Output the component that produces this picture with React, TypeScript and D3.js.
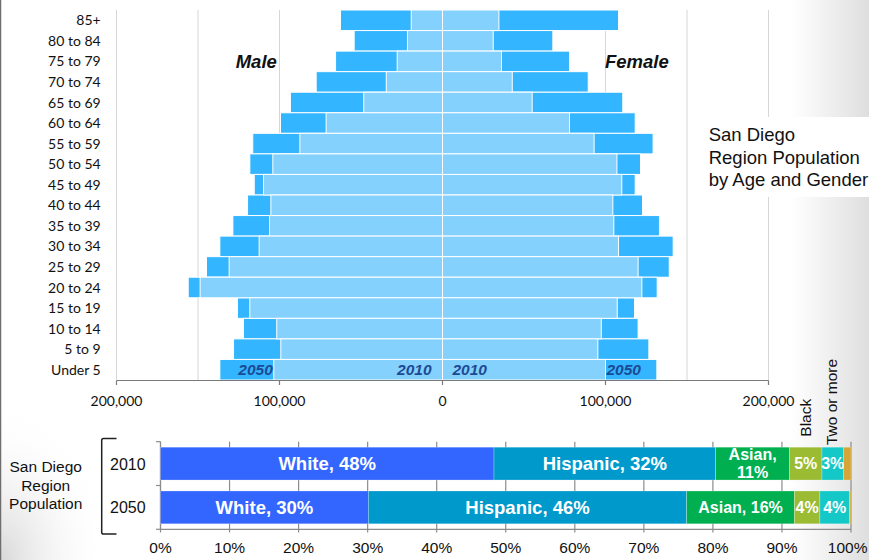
import React, { useEffect } from "react";
import * as d3 from "d3";

const ageGroups = ["85+", "80 to 84", "75 to 79", "70 to 74", "65 to 69", "60 to 64", "55 to 59", "50 to 54", "45 to 49", "40 to 44", "35 to 39", "30 to 34", "25 to 29", "20 to 24", "15 to 19", "10 to 14", "5 to 9", "Under 5"];
const male2010 = [19200, 21500, 27800, 34500, 48300, 71400, 87500, 104100, 109800, 105300, 106100, 112500, 130900, 148700, 118200, 101700, 99200, 103500];
const male2050 = [62600, 54200, 65600, 77500, 93300, 99400, 116400, 118200, 115500, 119600, 128600, 136600, 144800, 156000, 125800, 122100, 128200, 136600];
const female2010 = [34600, 31100, 36200, 42800, 55000, 77900, 93000, 107000, 110000, 104500, 105100, 108000, 120000, 122300, 107200, 97400, 95300, 100000];
const female2050 = [108000, 67700, 77900, 89400, 110600, 118200, 129200, 121500, 118200, 122700, 133100, 141500, 139100, 131700, 117800, 120000, 126600, 131500];
const popTicks = [-200000, -100000, 0, 100000, 200000];
const popGrid = [-200000, -150000, -100000, -50000, 50000, 100000, 150000, 200000];

const years = ["2010", "2050"];
const raceNames = ["White", "Hispanic", "Asian", "Black", "Two or more", "Other"];
const race2010 = [48.3, 32.1, 10.7, 4.7, 3.1, 1.1];
const race2050 = [30.1, 46.1, 15.6, 3.7, 4.3, 0.2];
const raceLabels2010 = ["White, 48%", "Hispanic, 32%", "Asian,|11%", "5%", "3%", ""];
const raceLabels2050 = ["White, 30%", "Hispanic, 46%", "Asian, 16%", "4%", "4%", ""];
const raceColors = ["#3366FF", "#0099CC", "#00B050", "#9BBB33", "#14C8C8", "#D4A537"];
const pctTicks = [0, 10, 20, 30, 40, 50, 60, 70, 80, 90, 100];

const ARIAL = "'Liberation Sans', Arial, sans-serif";
const CAL = "Lato, 'Open Sans', sans-serif";
const LIGHT = "#85D1FE";
const DARK = "#33B5FF";
const NAVY = "#1C4A94";

export default function App() {
  useEffect(() => {
    document.body.style.margin = "0";
  }, []);

  const x = d3.scaleLinear().domain([-200000, 200000]).range([116.5, 768.5]);
  const y = d3.scaleBand<string>().domain(ageGroups).range([10, 380]).padding(0);
  const bw = y.bandwidth();

  const px = d3.scaleLinear().domain([0, 100]).range([160.5, 851]);
  const py = d3.scaleBand<string>().domain(years).range([441.7, 529.3]).paddingInner(0.25).paddingOuter(0.125);
  const pbw = py.bandwidth();

  const stacks = [race2010, race2050].map((vals) => {
    let acc = 0;
    return vals.map((v) => {
      const s = acc;
      acc += v;
      return [s, acc];
    });
  });
  const labelSets = [raceLabels2010, raceLabels2050];

  const last = ageGroups.length - 1;
  const lastY = (y(ageGroups[last]) as number) + bw / 2 + 5.5;

  const blackSeg2010 = stacks[0][3];
  const twoSeg2010 = stacks[0][4];

  return (
    <svg width={869} height={560} style={{ position: "fixed", left: 0, top: 0, display: "block" }}>
      <defs>
        <linearGradient id="rg" x1="0" x2="1" y1="0" y2="0">
          <stop offset="0" stopColor="#e2e2e2" stopOpacity={0} />
          <stop offset="1" stopColor="#dedede" stopOpacity={1} />
        </linearGradient>
        <radialGradient id="blg" cx="0" cy="1" r="1">
          <stop offset="0" stopColor="#d8d8d8" stopOpacity={1} />
          <stop offset="1" stopColor="#ffffff" stopOpacity={0} />
        </radialGradient>
      </defs>
      <rect x={0} y={0} width={869} height={560} fill="#fff" />
      <rect x={790} y={0} width={79} height={560} fill="url(#rg)" />
      <rect x={0} y={400} width={110} height={160} fill="url(#blg)" />
      <line x1={0.5} x2={0.5} y1={0} y2={560} stroke="#6e6e6e" strokeWidth={1.5} />

      {/* pyramid gridlines */}
      {popGrid.map((t) => (
        <line key={t} x1={x(t)} x2={x(t)} y1={10} y2={380} stroke="#d6d6d6" strokeWidth={1} />
      ))}

      {/* title box */}
      <rect x={700} y={117} width={169} height={80} fill="#fff" />
      <text fontFamily={ARIAL} fontSize={18.5} fill="#111">
        <tspan x={708.7} y={140.7}>San Diego</tspan>
        <tspan x={708.7} y={163.5}>Region Population</tspan>
        <tspan x={708.7} y={186}>by Age and Gender</tspan>
      </text>

      {/* bars 2050 */}
      {ageGroups.map((g, i) => (
        <g key={"b50" + g}>
          <rect x={x(-male2050[i])} y={y(g)} width={x(0) - x(-male2050[i])} height={bw} fill={DARK} stroke="#fff" strokeWidth={1} />
          <rect x={x(0)} y={y(g)} width={x(female2050[i]) - x(0)} height={bw} fill={DARK} stroke="#fff" strokeWidth={1} />
        </g>
      ))}
      {/* bars 2010 */}
      {ageGroups.map((g, i) => (
        <g key={"b10" + g}>
          <rect x={x(-male2010[i])} y={y(g)} width={x(0) - x(-male2010[i])} height={bw} fill={LIGHT} stroke="#fff" strokeWidth={1} />
          <rect x={x(0)} y={y(g)} width={x(female2010[i]) - x(0)} height={bw} fill={LIGHT} stroke="#fff" strokeWidth={1} />
        </g>
      ))}

      {/* category labels */}
      {ageGroups.map((g) => (
        <text key={"l" + g} x={100.7} y={(y(g) as number) + bw / 2 + 5} textAnchor="end" fontFamily={CAL} fontSize={14} fill="#111">
          {g}
        </text>
      ))}

      {/* year labels in bottom row */}
      <g fontFamily={ARIAL} fontSize={15.5} fontWeight="bold" fontStyle="italic" fill={NAVY}>
        <text x={x(-male2010[last]) - 1} y={lastY} textAnchor="end">2050</text>
        <text x={x(0) - 11} y={lastY} textAnchor="end">2010</text>
        <text x={x(0) + 10} y={lastY} textAnchor="start">2010</text>
        <text x={x(female2010[last]) + 1} y={lastY} textAnchor="start">2050</text>
      </g>

      {/* Male / Female */}
      <g fontFamily={ARIAL} fontSize={18.5} fontWeight="bold" fontStyle="italic" fill="#111">
        <text x={235.7} y={68.3}>Male</text>
        <text x={605} y={68.3}>Female</text>
      </g>

      {/* pyramid axis */}
      <line x1={x(-200000)} x2={x(200000)} y1={380.5} y2={380.5} stroke="#7a7a7a" strokeWidth={1.2} />
      {popTicks.map((t) => (
        <g key={"t" + t}>
          <line x1={x(t)} x2={x(t)} y1={380.5} y2={385} stroke="#7a7a7a" strokeWidth={1.2} />
          <text x={x(t)} y={406} textAnchor="middle" fontFamily={CAL} fontSize={14} fill="#111">
            {d3.format(",")(Math.abs(t))}
          </text>
        </g>
      ))}

      {/* bottom chart gridlines */}
      {pctTicks.map((t) => (
        <line key={"pg" + t} x1={px(t)} x2={px(t)} y1={441.7} y2={532.5} stroke="#8c8c8c" strokeWidth={1.2} />
      ))}
      <line x1={px(0)} x2={px(0)} y1={441.7} y2={529.3} stroke="#8c8c8c" strokeWidth={1.2} />
      {[441.7, 485.5, 529.3].map((v) => (
        <line key={"yt" + v} x1={156} x2={px(0)} y1={v} y2={v} stroke="#8c8c8c" strokeWidth={1.2} />
      ))}
      <line x1={px(0)} x2={px(100)} y1={529.3} y2={529.3} stroke="#8c8c8c" strokeWidth={1.2} />

      {/* stacked bars */}
      {years.map((yr, yi) => (
        <g key={"yr" + yr}>
          {stacks[yi].map(([s, e], k) => (
            <rect key={raceNames[k]} x={px(s)} y={py(yr)} width={px(e) - px(s)} height={pbw} fill={raceColors[k]} stroke="#ffffff" strokeOpacity={0.5} strokeWidth={0.5} />
          ))}
          {stacks[yi].map(([s, e], k) => {
            const lab = labelSets[yi][k];
            if (!lab) return null;
            const cx = (px(s) + px(e)) / 2;
            const cy = (py(yr) as number) + pbw / 2;
            const big = k < 2;
            const fs = big ? 18.5 : 16;
            if (lab.includes("|")) {
              const parts = lab.split("|");
              return (
                <text key={"lab" + k} textAnchor="middle" fontFamily={ARIAL} fontWeight="bold" fontSize={fs} fill="#fff">
                  <tspan x={cx} y={cy - 3.6}>{parts[0]}</tspan>
                  <tspan x={cx} y={cy + 14.7}>{parts[1]}</tspan>
                </text>
              );
            }
            return (
              <text key={"lab" + k} x={cx} y={cy + fs * 0.36} textAnchor="middle" fontFamily={ARIAL} fontWeight="bold" fontSize={fs} fill="#fff">
                {lab}
              </text>
            );
          })}
        </g>
      ))}

      {/* rotated legend labels */}
      <text transform={`translate(${(px(blackSeg2010[0]) + px(blackSeg2010[1])) / 2 + 5},436.7) rotate(-90)`} fontFamily={ARIAL} fontSize={15.5} fill="#111">
        Black
      </text>
      <text transform={`translate(${(px(twoSeg2010[0]) + px(twoSeg2010[1])) / 2 + 4},445) rotate(-90)`} fontFamily={ARIAL} fontSize={15.5} fill="#111">
        Two or more
      </text>

      {/* bottom axis labels */}
      {pctTicks.map((t) => (
        <text key={"pl" + t} x={t === 100 ? 867.5 : px(t)} y={553.3} textAnchor={t === 100 ? "end" : "middle"} fontFamily={ARIAL} fontSize={15.5} fill="#111">
          {t}%
        </text>
      ))}

      {/* year labels & bracket */}
      {years.map((yr, i) => (
        <text key={"yl" + yr} x={127.8} y={i === 0 ? 470 : 513.3} textAnchor="middle" fontFamily={ARIAL} fontSize={16} fill="#111">
          {yr}
        </text>
      ))}
      <path d="M116.5,438.5 L103.5,438.5 Q101.7,438.5 101.7,440.3 L101.7,532.2 Q101.7,534 103.5,534 L116.5,534" fill="none" stroke="#222" strokeWidth={1.5} />
      <text textAnchor="middle" fontFamily={ARIAL} fontSize={15.5} fill="#111">
        <tspan x={45.7} y={471.7}>San Diego</tspan>
        <tspan x={45.7} y={491}>Region</tspan>
        <tspan x={45.7} y={509.3}>Population</tspan>
      </text>
    </svg>
  );
}
